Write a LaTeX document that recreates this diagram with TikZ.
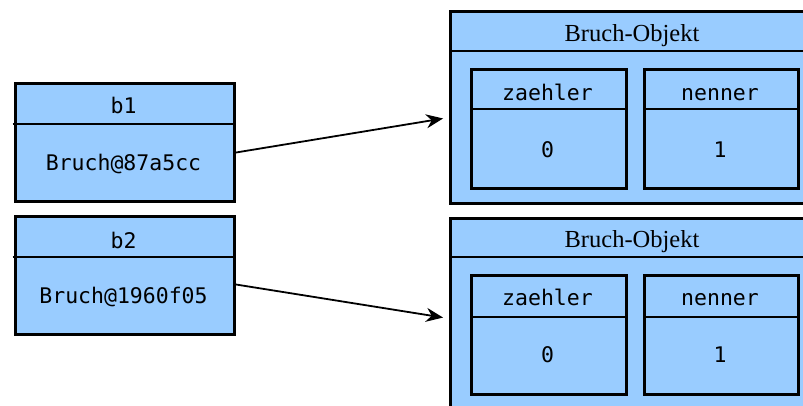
\documentclass[tikz,border=0pt]{standalone}
\usepackage{fontspec}
\setmonofont{DejaVu Sans Mono}
\newfontfamily\titlefont{Liberation Serif}
\usetikzlibrary{arrows.meta}
\definecolor{boxblue}{HTML}{99CCFF}
\begin{document}
\begin{tikzpicture}[x=1pt,y=-1pt,
  boxfill/.style={fill=boxblue, draw=black, line width=3pt, inner sep=0pt, anchor=north west},
  sepline/.style={line width=2.6pt},
  mono/.style={font=\fontsize{21.5}{24}\selectfont\ttfamily, inner sep=0pt, anchor=base},
  titletext/.style={font=\fontsize{24.5}{28}\selectfont\titlefont, inner sep=0pt, anchor=base},
  refarrow/.style={line width=1.8pt, -{Stealth[length=17pt,width=14pt]}}
]
\useasboundingbox (0,0) rectangle (803,405);
\clip (0,0) rectangle (803,405);

% reference variables
\node[boxfill, minimum width=219pt, minimum height=118pt] (b1) at (14,82) {};
\draw[sepline] (12.5,124) -- (233,124);
\node[mono] (b1name) at (123.5,113) {b1};
\node[mono] (b1val) at (123.5,170) {Bruch@87a5cc};

\node[boxfill, minimum width=219pt, minimum height=118pt] (b2) at (14,215) {};
\draw[sepline] (12.5,257) -- (233,257);
\node[mono] (b2name) at (123.5,248) {b2};
\node[mono] (b2val) at (123.5,303) {Bruch@1960f05};

% object 1
\node[boxfill, minimum width=366pt, minimum height=192pt] (obj1) at (449,10) {};
\draw[sepline] (449,51) -- (815,51);
\node[titletext] (t1) at (632,41) {Bruch-Objekt};
\node[boxfill, minimum width=155pt, minimum height=119pt] (z1) at (470,68) {};
\draw[sepline] (470,109) -- (625,109);
\node[boxfill, minimum width=154pt, minimum height=119pt] (n1) at (643,68) {};
\draw[sepline] (643,109) -- (797,109);
\node[mono] (z1name) at (547.5,100) {zaehler};
\node[mono] (z1val) at (547.5,157) {0};
\node[mono] (n1name) at (720,100) {nenner};
\node[mono] (n1val) at (720,157) {1};

% object 2
\node[boxfill, minimum width=366pt, minimum height=192pt] (obj2) at (449,217) {};
\draw[sepline] (449,257) -- (815,257);
\node[titletext] (t2) at (632,247) {Bruch-Objekt};
\node[boxfill, minimum width=155pt, minimum height=119pt] (z2) at (470,274) {};
\draw[sepline] (470,317) -- (625,317);
\node[boxfill, minimum width=154pt, minimum height=119pt] (n2) at (643,274) {};
\draw[sepline] (643,317) -- (797,317);
\node[mono] (z2name) at (547.5,305) {zaehler};
\node[mono] (z2val) at (547.5,362) {0};
\node[mono] (n2name) at (720,305) {nenner};
\node[mono] (n2val) at (720,362) {1};

% references
\draw[refarrow, shorten >=6pt] ([yshift=-10pt]b1.east) -- ([yshift=-10pt]obj1.west);
\draw[refarrow, shorten >=6pt] ([yshift=-9pt]b2.east) -- ([yshift=-4pt]obj2.west);
\end{tikzpicture}
\end{document}
